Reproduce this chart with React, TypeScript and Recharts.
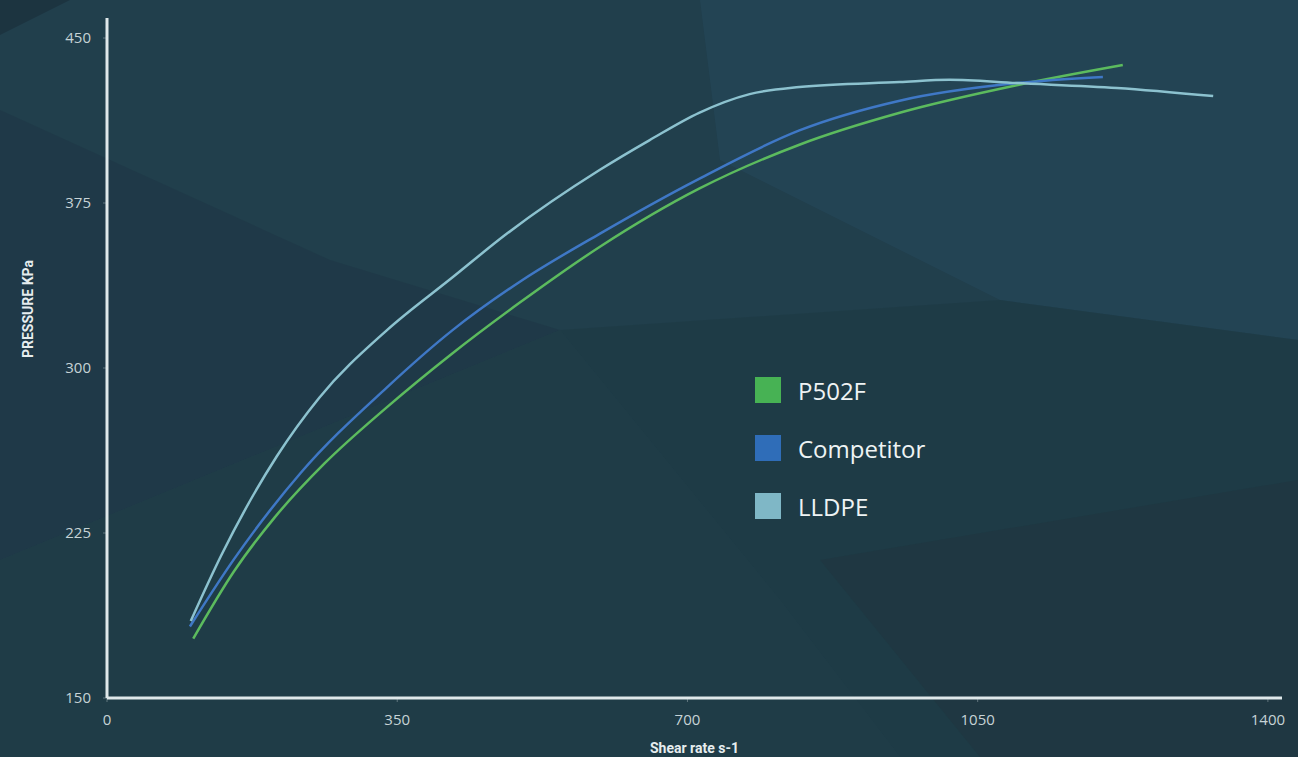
import { Line, LineChart, XAxis, YAxis } from 'recharts'

const xTicks = [0, 350, 700, 1050, 1400]
const yTicks = [150, 225, 300, 375, 450]

const p502fX = [104, 153, 202, 262, 337, 416, 497, 594, 714, 835, 956, 1097, 1225]
const p502fY = [177, 207.5, 232, 256.5, 282, 306.5, 329.5, 355, 381.5, 401.5, 416, 428.5, 437.7]

const competitorX = [100, 153, 234, 337, 416, 497, 594, 714, 835, 956, 1097, 1201]
const competitorY = [182.5, 213, 252.5, 291, 317, 339, 361, 386, 408, 421.5, 429.5, 432.3]

const lldpeX = [101, 138, 205, 256, 337, 416, 482, 594, 654, 714, 775, 835, 956, 1016, 1097, 1218, 1334]
const lldpeY = [185, 215, 260, 286.5, 317, 341, 361, 390, 403.5, 416, 424.5, 427.7, 430, 431, 429.5, 427.3, 423.6]

const SERIES = [
  { name: 'P502F', xs: p502fX, ys: p502fY, line: '#5cbb5e', swatch: '#47b254' },
  { name: 'Competitor', xs: competitorX, ys: competitorY, line: '#3f78c6', swatch: '#2f6db8' },
  { name: 'LLDPE', xs: lldpeX, ys: lldpeY, line: '#8cc2cf', swatch: '#7fb7c6' },
]

const toPoints = (xs: number[], ys: number[]) => xs.map((x, i) => ({ x, y: ys[i] }))

const AXIS_COLOR = '#dfe8ea'
const TICK_COLOR = '#c6d3d6'

function LegendBox() {
  return (
    <div style={{ position: 'absolute', left: 755, top: 361, fontFamily: 'Open Sans', color: '#eef3f4' }}>
      {SERIES.map((s) => (
        <div key={s.name} style={{ display: 'flex', alignItems: 'center', height: 58 }}>
          <span style={{ width: 26, height: 26, background: s.swatch, marginRight: 17 }} />
          <span style={{ fontSize: 24 }}>{s.name}</span>
        </div>
      ))}
    </div>
  )
}

function Background() {
  return (
    <svg width={1298} height={757} style={{ position: 'absolute', left: 0, top: 0 }}>
      <rect width={1298} height={757} fill="#213f4c" />
      <polygon points="0,0 70,0 0,35" fill="#1c3440" />
      <polygon points="0,110 330,260 560,330 0,560" fill="#1f3847" opacity={0.8} />
      <polygon points="700,0 1298,0 1298,340 1000,300 720,160" fill="#25475a" opacity={0.6} />
      <polygon points="560,330 1000,300 1298,340 1298,757 900,757 780,600" fill="#1e3a45" opacity={0.7} />
      <polygon points="0,560 560,330 780,600 900,757 0,757" fill="#1f3c46" opacity={0.7} />
      <polygon points="820,560 1298,480 1298,757 980,757" fill="#203540" opacity={0.6} />
    </svg>
  )
}

export default function App() {
  return (
    <div style={{ position: 'fixed', left: 0, top: 0, width: 1298, height: 757, overflow: 'hidden' }}>
      <Background />
      <div style={{ position: 'absolute', left: 0, top: 0 }}>
        <LineChart width={1298} height={757} margin={{ top: 18, right: 16, bottom: 0, left: 0 }}>
          <XAxis
            type="number"
            dataKey="x"
            domain={[0, 1417]}
            ticks={xTicks}
            allowDataOverflow
            height={59}
            stroke={AXIS_COLOR}
            strokeWidth={3}
            tickLine={{ stroke: 'rgba(220,230,232,0.35)', strokeWidth: 1 }}
            tickSize={4}
            tickMargin={12}
            tick={{ fill: TICK_COLOR, fontSize: 15, fontFamily: 'Open Sans' }}
            label={{
              value: 'Shear rate s-1',
              position: 'insideBottom',
              offset: 4,
              fill: '#e6edef',
              fontSize: 14,
              fontWeight: 700,
              fontFamily: 'Roboto',
            }}
          />
          <YAxis
            type="number"
            dataKey="y"
            domain={[150, 459.1]}
            ticks={yTicks}
            allowDataOverflow
            width={107}
            stroke={AXIS_COLOR}
            strokeWidth={3}
            tickLine={{ stroke: 'rgba(220,230,232,0.35)', strokeWidth: 1 }}
            tickSize={4}
            tickMargin={12}
            tick={{ fill: TICK_COLOR, fontSize: 15, fontFamily: 'Open Sans' }}
            label={{
              value: 'PRESSURE KPa',
              angle: -90,
              position: 'insideLeft',
              offset: 28,
              fill: '#e6edef',
              fontSize: 14,
              fontWeight: 700,
              fontFamily: 'Roboto',
            }}
          />
          {SERIES.map((s) => (
            <Line
              key={s.name}
              name={s.name}
              data={toPoints(s.xs, s.ys)}
              dataKey="y"
              type="monotone"
              stroke={s.line}
              strokeWidth={2.5}
              dot={false}
              isAnimationActive={false}
            />
          ))}
        </LineChart>
      </div>
      <LegendBox />
    </div>
  )
}
